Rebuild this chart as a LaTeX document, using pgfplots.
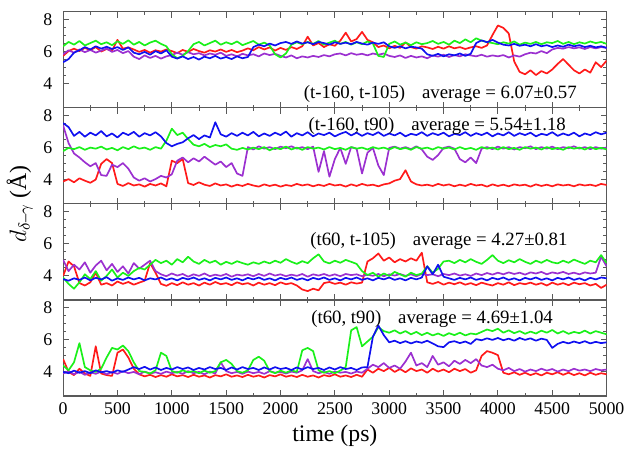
\documentclass[border=0pt]{standalone}
\usepackage{amsmath}
\usepackage{fontspec}
\setmainfont{Liberation Serif}
\usepackage{pgfplots}
\usepackage{pgfplotstable}
\pgfplotsset{compat=1.18}
\usepgfplotslibrary{groupplots}
\usetikzlibrary{calc}
\definecolor{ared}{HTML}{FF1A1A}
\definecolor{agreen}{HTML}{1AF01A}
\definecolor{ablue}{HTML}{1010F0}
\definecolor{apurple}{HTML}{9B30D0}

% panel 1: (t-160, t-105)
\pgfplotstableread{
x r g b p
0 5.75 6.35 5.35 5.85
50 6.05 6.62 5.55 6.10
100 6.20 6.45 5.95 5.95
150 6.05 6.68 6.10 6.15
200 6.25 6.40 6.30 5.98
250 6.10 6.55 6.15 6.12
300 6.30 6.70 6.35 5.95
350 6.02 6.48 6.20 6.08
400 6.18 6.60 6.32 6.20
450 6.08 6.42 6.18 6.00
500 6.75 6.66 6.30 6.12
550 6.20 6.50 6.12 5.92
600 6.28 6.72 6.28 6.05
650 6.15 6.45 5.95 5.70
700 6.00 6.62 5.85 5.55
750 6.12 6.40 6.00 5.78
800 5.95 6.58 5.82 5.62
850 6.10 6.70 6.05 5.75
900 6.02 6.50 5.90 5.58
950 6.15 6.35 6.10 5.72
1000 6.05 5.85 5.70 5.80
1050 5.92 5.60 5.58 5.95
1100 6.12 5.75 5.72 5.82
1150 6.00 6.05 5.55 5.98
1200 6.18 6.48 5.68 5.85
1250 6.05 6.62 5.52 5.92
1300 5.95 6.40 5.70 5.78
1350 6.10 6.55 5.60 5.90
1400 6.02 6.70 5.75 5.82
1450 6.15 6.45 5.58 5.95
1500 6.00 6.60 5.68 5.75
1550 6.12 6.48 5.55 5.85
1600 5.98 6.65 5.72 5.72
1650 6.08 6.42 5.60 5.88
1700 6.22 6.55 5.68 5.78
1750 6.10 6.68 6.30 5.85
1800 6.30 6.45 6.45 5.72
1850 6.15 6.58 6.35 5.90
1900 6.28 6.40 6.52 5.80
1950 6.08 5.85 6.40 5.88
2000 6.25 5.65 6.55 5.75
2050 6.12 5.90 6.62 5.65
2100 6.30 6.45 6.50 5.78
2150 6.18 6.60 6.65 5.60
2200 6.35 6.48 6.52 5.72
2250 6.95 6.62 6.60 5.65
2300 6.40 6.50 6.48 5.75
2350 6.55 6.68 6.62 5.68
2400 6.30 6.45 6.55 5.80
2450 6.48 6.58 6.45 5.72
2500 6.38 6.70 6.60 5.85
2550 6.70 6.50 6.50 5.90
2600 7.20 6.62 6.58 5.78
2650 6.65 6.45 6.48 5.92
2700 6.80 6.60 6.62 5.82
2750 7.25 6.48 6.52 5.88
2800 6.75 6.65 6.45 5.78
2850 6.60 6.52 6.58 5.90
2900 6.30 5.75 6.50 5.82
2950 6.40 5.68 6.60 5.90
3000 6.22 6.50 6.35 5.75
3050 6.38 6.65 6.25 5.68
3100 6.25 6.45 6.35 5.78
3150 6.60 6.58 6.22 5.62
3200 6.30 6.42 6.32 5.75
3250 6.20 6.60 6.28 5.65
3300 6.35 6.48 6.20 5.72
3350 6.28 6.55 5.85 5.60
3400 6.18 6.68 5.75 5.78
3450 6.32 6.50 5.88 5.70
3500 6.20 6.62 5.72 5.82
3550 6.35 6.45 5.85 5.68
3600 6.22 6.70 5.78 5.80
3650 6.30 6.55 5.90 5.72
3700 6.18 6.78 5.75 5.85
3750 6.28 6.60 5.88 5.78
3800 6.35 6.85 6.55 5.72
3850 6.25 6.70 6.72 5.82
3900 6.40 6.62 6.60 5.70
3950 7.05 6.55 6.75 5.78
4000 7.65 6.48 6.58 5.72
4050 7.50 6.60 6.45 5.80
4100 7.15 6.52 6.40 5.65
4150 5.40 6.65 6.50 5.78
4200 4.75 6.45 6.38 5.70
4250 4.60 6.58 6.45 5.85
4300 4.85 6.50 6.35 5.95
4350 4.55 6.62 6.48 5.90
4400 4.80 6.48 6.35 6.05
4450 4.65 6.60 6.42 5.92
4500 4.90 6.55 6.30 6.15
4550 5.25 6.68 6.40 6.25
4600 5.55 6.50 6.32 6.20
4650 5.20 6.62 6.45 6.30
4700 4.85 6.48 6.35 6.22
4750 4.65 6.60 6.42 6.28
4800 4.90 6.52 6.30 6.18
4850 4.70 6.65 6.38 6.30
4900 5.35 6.55 6.28 6.22
4950 5.05 6.62 6.35 6.30
5000 5.45 6.50 6.25 6.25
}\pOne

% panel 2: (t-160, t90)
\pgfplotstableread{
x r g b p
0 3.90 5.80 7.55 7.40
50 4.05 6.00 7.30 6.30
100 3.85 5.92 6.75 5.65
150 4.10 6.05 7.00 5.40
200 3.95 5.88 6.70 5.10
250 3.82 6.02 6.95 4.85
300 4.02 5.95 6.78 5.05
350 5.00 6.08 7.05 4.30
400 5.30 5.90 6.72 4.25
450 5.05 6.00 6.90 4.95
500 3.75 5.85 6.65 4.80
550 3.62 6.05 6.95 5.05
600 3.80 5.92 6.80 4.70
650 3.65 6.10 7.00 4.15
700 3.72 5.95 6.70 3.95
750 3.58 6.02 6.92 4.10
800 3.75 5.88 6.78 3.90
850 3.65 6.05 6.98 4.05
900 3.78 5.95 6.72 4.25
950 3.60 6.45 6.30 4.15
1000 5.20 7.20 6.10 4.35
1050 5.05 6.80 6.25 5.20
1100 5.30 6.95 6.35 5.40
1150 3.80 6.55 6.60 5.10
1200 3.68 6.20 6.80 5.35
1250 3.85 6.10 6.55 5.15
1300 3.70 6.25 6.78 5.45
1350 3.62 6.05 6.65 5.20
1400 3.78 6.18 7.60 4.95
1450 3.65 6.10 6.85 5.15
1500 3.72 6.22 6.70 4.80
1550 3.58 5.95 6.92 5.05
1600 3.70 5.88 6.75 4.40
1650 3.62 6.00 6.95 4.25
1700 3.75 5.90 6.78 6.05
1750 3.65 6.02 7.00 5.90
1800 3.58 5.92 6.72 6.10
1850 3.72 6.05 6.90 5.95
1900 3.62 5.85 6.75 6.05
1950 3.70 6.00 6.95 5.92
2000 3.58 5.92 6.80 6.08
2050 3.68 6.08 7.02 5.98
2100 3.62 5.90 6.70 6.10
2150 3.75 6.02 6.92 5.95
2200 3.65 5.88 6.78 6.05
2250 3.72 6.05 6.98 5.92
2300 3.60 5.95 6.72 6.08
2350 3.70 6.02 6.90 4.50
2400 3.62 5.90 6.80 5.80
2450 3.75 6.05 6.95 4.20
2500 3.65 5.92 6.72 5.30
2550 3.70 6.00 6.88 6.00
2600 3.58 5.88 7.00 5.00
2650 3.72 6.05 6.78 6.05
2700 3.62 5.95 6.95 5.95
2750 3.75 6.02 6.75 4.40
2800 3.65 5.90 6.92 5.70
2850 3.70 6.05 6.80 6.00
2900 3.60 5.95 6.98 4.90
2950 3.72 6.02 6.75 4.30
3000 3.78 5.90 6.90 6.00
3050 3.95 6.05 6.78 6.08
3100 4.05 5.92 6.95 5.95
3150 4.60 6.00 6.72 6.05
3200 3.90 5.88 6.88 5.92
3250 3.72 6.05 6.80 6.10
3300 3.65 5.95 6.98 5.90
3350 3.70 6.02 6.75 5.45
3400 3.62 5.90 6.92 5.25
3450 3.75 6.05 6.80 5.55
3500 3.65 5.95 6.95 6.00
3550 3.72 6.02 6.72 6.08
3600 3.60 5.90 6.88 5.95
3650 3.70 6.05 6.80 5.30
3700 3.62 5.92 6.98 5.10
3750 3.75 6.00 6.75 5.40
3800 3.65 5.88 6.92 5.05
3850 3.70 6.05 6.80 5.95
3900 3.58 5.95 6.95 6.05
3950 3.72 6.02 6.72 5.92
4000 3.62 5.90 6.90 6.08
4050 3.70 6.05 6.78 5.95
4100 3.60 5.92 6.98 6.05
4150 3.72 6.00 6.75 5.90
4200 3.65 5.88 6.92 6.05
4250 3.70 6.05 6.80 5.98
4300 3.58 5.95 6.95 6.10
4350 3.72 6.02 6.72 5.92
4400 3.62 5.90 6.88 6.05
4450 3.70 6.05 6.80 5.95
4500 3.60 5.92 6.98 6.08
4550 3.72 6.00 6.75 5.92
4600 3.65 5.88 6.90 6.05
4650 3.70 6.05 6.78 5.98
4700 3.60 5.95 6.95 6.10
4750 3.72 6.02 6.72 5.95
4800 3.65 5.90 6.90 6.05
4850 3.70 6.05 6.80 5.92
4900 3.62 5.92 6.98 6.05
4950 3.75 6.00 6.85 5.95
5000 3.68 5.90 6.95 6.02
}\pTwo

% panel 3: (t60, t-105)
\pgfplotstableread{
x r g b p
0 4.00 3.90 3.80 5.00
50 4.90 3.50 3.70 4.30
100 4.60 3.20 3.85 4.70
150 3.55 3.60 3.75 4.40
200 3.40 4.10 3.90 4.85
250 3.60 3.80 3.72 4.20
300 4.20 4.30 3.88 4.65
350 3.45 3.70 3.78 4.95
400 3.55 4.00 3.92 4.35
450 3.40 4.40 3.70 4.75
500 3.65 3.90 3.85 4.25
550 3.50 4.20 3.75 4.60
600 3.62 4.00 3.90 4.15
650 3.45 4.30 3.78 4.80
700 3.58 4.50 3.88 4.45
750 3.70 4.40 3.72 4.70
800 4.80 4.70 3.85 4.95
850 4.20 5.00 3.78 4.30
900 3.50 4.80 3.90 4.10
950 3.38 4.95 3.75 3.98
1000 3.55 4.70 3.85 4.15
1050 3.42 5.05 3.72 4.02
1100 3.60 4.85 3.88 4.12
1150 3.45 5.20 3.78 3.95
1200 3.55 4.90 3.90 4.10
1250 3.40 4.75 3.75 4.00
1300 3.58 5.00 3.85 4.15
1350 3.45 4.82 3.72 3.98
1400 3.62 4.95 3.88 4.08
1450 3.48 4.70 3.78 4.00
1500 3.55 4.88 3.90 4.12
1550 3.42 4.75 3.75 3.95
1600 3.60 4.92 3.85 4.08
1650 3.48 4.80 3.72 4.02
1700 3.55 4.70 3.88 4.10
1750 3.40 4.85 3.78 3.98
1800 3.58 4.75 3.90 4.12
1850 3.45 4.90 3.75 4.00
1900 3.55 4.78 3.85 4.15
1950 3.42 4.95 3.72 4.02
2000 3.60 4.82 3.88 4.10
2050 3.48 5.05 3.78 3.98
2100 3.55 4.88 3.90 4.08
2150 3.40 4.75 3.75 4.00
2200 3.15 4.92 3.85 4.12
2250 3.05 4.80 3.72 3.95
2300 3.20 5.10 3.88 4.10
2350 3.10 5.35 3.78 4.02
2400 3.55 4.90 3.90 4.12
2450 3.62 4.78 3.75 4.00
2500 3.50 4.95 3.85 4.10
2550 3.58 4.82 3.72 3.98
2600 3.45 5.00 3.88 4.12
2650 3.60 4.88 3.78 4.05
2700 3.52 4.75 3.90 4.10
2750 3.58 4.30 3.75 3.98
2800 4.90 4.05 3.85 4.08
2850 5.10 4.20 3.72 4.00
2900 5.40 3.95 3.88 4.12
2950 4.95 4.15 3.78 3.98
3000 5.15 4.00 3.90 4.10
3050 4.85 4.25 3.75 4.02
3100 5.05 4.10 3.85 4.12
3150 4.90 3.95 3.72 4.00
3200 5.10 4.20 3.88 4.10
3250 4.95 4.05 3.78 3.98
3300 5.45 4.15 3.90 4.12
3350 3.60 4.60 4.60 4.05
3400 3.50 4.20 4.10 4.10
3450 3.62 4.45 4.70 3.98
3500 3.45 4.90 3.95 4.12
3550 3.58 4.95 3.85 4.05
3600 3.48 4.80 3.75 4.15
3650 3.60 5.00 3.88 4.02
3700 3.45 4.85 3.78 4.10
3750 3.55 5.05 3.90 4.00
3800 3.42 4.88 3.75 4.15
3850 3.58 4.75 3.85 4.05
3900 3.48 5.00 3.72 4.18
3950 3.40 5.30 3.88 4.08
4000 3.55 4.95 3.78 4.20
4050 3.45 4.80 3.90 4.10
4100 3.60 4.98 3.75 4.22
4150 3.42 4.85 3.85 4.12
4200 3.55 5.05 3.72 4.20
4250 3.48 4.88 3.88 4.08
4300 3.58 4.75 3.78 4.22
4350 3.45 4.95 3.90 4.15
4400 3.55 4.82 3.75 4.25
4450 3.40 5.00 3.85 4.10
4500 3.58 4.85 3.72 4.22
4550 3.45 4.78 3.88 4.15
4600 3.55 4.95 3.78 4.25
4650 3.42 4.82 3.90 4.12
4700 3.58 5.02 3.75 4.20
4750 3.48 4.88 3.85 4.10
4800 3.55 4.75 3.72 4.22
4850 3.40 4.95 3.88 4.15
4900 3.50 4.85 3.78 4.20
4950 3.25 5.30 3.90 5.20
5000 3.45 4.80 3.85 4.60
}\pThree

% panel 4: (t60, t90)
\pgfplotstableread{
x r g b p
0 4.80 4.40 4.00 3.90
50 4.00 4.10 3.92 4.05
100 3.80 4.60 4.08 3.85
150 4.20 5.80 3.95 4.00
200 3.90 4.30 4.05 3.82
250 3.75 4.10 3.92 3.98
300 5.60 4.00 4.10 3.88
350 3.90 4.20 3.98 4.02
400 3.80 4.90 4.05 3.85
450 3.75 5.50 3.95 4.00
500 5.20 5.40 4.10 3.88
550 5.40 5.65 4.00 4.05
600 4.90 5.30 4.15 3.92
650 4.20 4.60 4.30 4.00
700 3.85 4.05 4.18 3.85
750 3.72 4.00 4.32 4.02
800 3.82 3.90 4.15 3.90
850 3.68 4.10 4.28 3.98
900 3.80 5.20 4.12 3.88
950 3.70 5.00 4.25 4.02
1000 3.85 4.05 4.15 3.92
1050 3.72 3.95 4.30 4.00
1100 3.80 4.10 4.18 3.88
1150 3.68 3.98 4.28 4.05
1200 3.82 4.05 4.12 3.92
1250 3.70 3.92 4.25 4.00
1300 3.78 4.08 4.15 3.85
1350 3.65 3.95 4.30 4.02
1400 3.80 4.05 4.18 3.90
1450 3.72 4.60 4.25 4.60
1500 3.85 4.75 4.12 4.05
1550 3.70 4.50 4.28 3.92
1600 3.78 4.05 4.15 4.00
1650 3.68 3.95 4.30 3.88
1700 3.82 4.10 4.18 4.02
1750 3.70 4.75 4.25 3.92
1800 3.78 4.95 4.12 4.00
1850 3.65 4.70 4.28 3.88
1900 3.80 4.05 4.15 4.05
1950 3.72 3.92 4.30 3.95
2000 3.85 4.08 4.18 4.00
2050 3.70 3.95 4.25 3.90
2100 3.78 4.10 4.12 4.02
2150 3.68 4.00 4.28 3.95
2200 3.82 5.35 4.15 4.10
2250 3.70 5.50 4.30 4.80
2300 3.78 5.30 4.18 4.05
2350 3.65 4.10 4.25 3.92
2400 3.80 3.95 4.12 4.00
2450 3.72 4.05 4.28 3.88
2500 3.85 3.92 4.15 4.02
2550 3.70 4.08 4.30 3.95
2600 3.78 4.30 4.18 4.00
2650 3.68 6.60 4.25 3.90
2700 3.82 6.80 4.12 4.02
2750 3.70 5.60 4.28 3.95
2800 4.15 5.90 4.30 4.20
2850 3.95 6.20 6.20 4.45
2900 4.20 6.80 6.90 4.30
2950 4.05 6.55 6.30 4.55
3000 4.25 6.45 5.85 4.25
3050 4.00 6.60 5.95 4.40
3100 4.18 6.40 5.80 4.20
3150 3.98 6.55 5.92 4.65
3200 4.22 6.35 5.78 5.20
3250 4.05 6.50 5.90 4.40
3300 4.15 6.30 5.82 4.55
3350 3.95 6.45 5.95 4.30
3400 4.20 6.28 5.78 5.00
3450 4.02 6.40 5.60 4.45
3500 4.15 6.25 5.55 4.60
3550 3.98 6.42 5.85 4.35
3600 4.20 6.30 5.92 4.70
3650 4.05 6.45 5.80 4.50
3700 4.18 6.28 5.90 4.75
3750 3.95 6.40 5.75 4.55
3800 4.10 6.35 6.05 4.80
3850 5.00 6.50 5.98 4.40
3900 5.30 6.65 6.10 4.30
3950 5.20 6.55 6.00 4.45
4000 5.05 6.70 6.12 4.20
4050 3.95 6.45 5.98 4.10
4100 3.85 6.60 6.08 4.25
4150 3.98 6.42 5.95 4.05
4200 3.82 6.55 6.12 4.18
4250 3.95 6.38 6.00 4.02
4300 3.80 6.52 6.10 4.15
4350 3.92 6.40 5.95 4.05
4400 3.78 6.58 6.08 4.20
4450 3.95 6.45 6.00 4.08
4500 3.85 6.62 5.50 4.18
4550 3.98 6.40 5.75 4.02
4600 3.82 6.55 5.88 4.15
4650 3.95 6.38 5.78 4.05
4700 3.80 6.50 5.90 4.20
4750 3.92 6.42 5.80 4.08
4800 3.78 6.58 5.92 4.15
4850 3.95 6.40 5.78 4.05
4900 3.82 6.55 5.88 4.18
4950 3.92 6.45 5.80 4.10
5000 3.85 6.35 5.85 4.15
}\pFour

\newcommand{\fourlines}[1]{%
  \addplot[ared] table[x=x,y=r] {#1};
  \addplot[apurple] table[x=x,y=p] {#1};
  \addplot[agreen] table[x=x,y=g] {#1};
  \addplot[ablue] table[x=x,y=b] {#1};
}

\begin{document}
\begin{tikzpicture}
\begin{groupplot}[
    group style={group size=1 by 4, vertical sep=0pt, x descriptions at=edge bottom},
    scale only axis,
    width=274.5pt,
    height=48.5pt,
    xmin=0, xmax=5000,
    ymin=2.5, ymax=8.5,
    xtick={0,500,...,5000},
    minor x tick num=1,
    ytick={4,6,8},
    minor y tick num=3,
    tick align=inside,
    major tick length=3pt,
    minor tick length=1.6pt,
    axis line style={black!65, line width=0.6pt},
    tick style={black!65, line width=0.5pt},
    ticklabel style={font=\fontsize{9}{9}\selectfont},
    yticklabel style={xshift=-2pt},
    /pgf/number format/assume math mode=true,
    /pgf/number format/1000 sep={},
    scaled x ticks=false,
    every axis plot/.append style={line width=0.85pt, no markers, line join=round},
    xlabel={time (ps)},
    xlabel style={font=\fontsize{12}{12}\selectfont, yshift=2pt},
    every node/.append style={inner sep=0pt},
]
\nextgroupplot
\fourlines{\pOne}
\node[anchor=east, font=\fontsize{9.5}{9.5}\selectfont] at (axis cs:4790,3.35) {(t-160, t-105)\hspace{0.9em}average = 6.07±0.57};

\nextgroupplot[
    ylabel={$d_{\delta\text{–}\gamma}$ (Å)},
    ylabel style={at={(axis description cs:-0.08,0)}, anchor=center, font=\fontsize{12}{12}\selectfont},
]
\fourlines{\pTwo}
\node[anchor=east, font=\fontsize{9.5}{9.5}\selectfont] at (axis cs:4690,7.35) {(t-160, t90)\hspace{0.9em}average = 5.54±1.18};

\nextgroupplot
\fourlines{\pThree}
\node[anchor=east, font=\fontsize{9.5}{9.5}\selectfont] at (axis cs:4705,6.2) {(t60, t-105)\hspace{0.9em}average = 4.27±0.81};

\nextgroupplot
\fourlines{\pFour}
\node[anchor=east, font=\fontsize{9.5}{9.5}\selectfont] at (axis cs:4570,7.3) {(t60, t90)\hspace{0.9em}average = 4.69±1.04};
\end{groupplot}
\path[draw=none] ($(group c1r1.north west)+(-31.5pt,6pt)$) rectangle ($(group c1r4.south east)+(9.5pt,-25pt)$);
\end{tikzpicture}
\end{document}
